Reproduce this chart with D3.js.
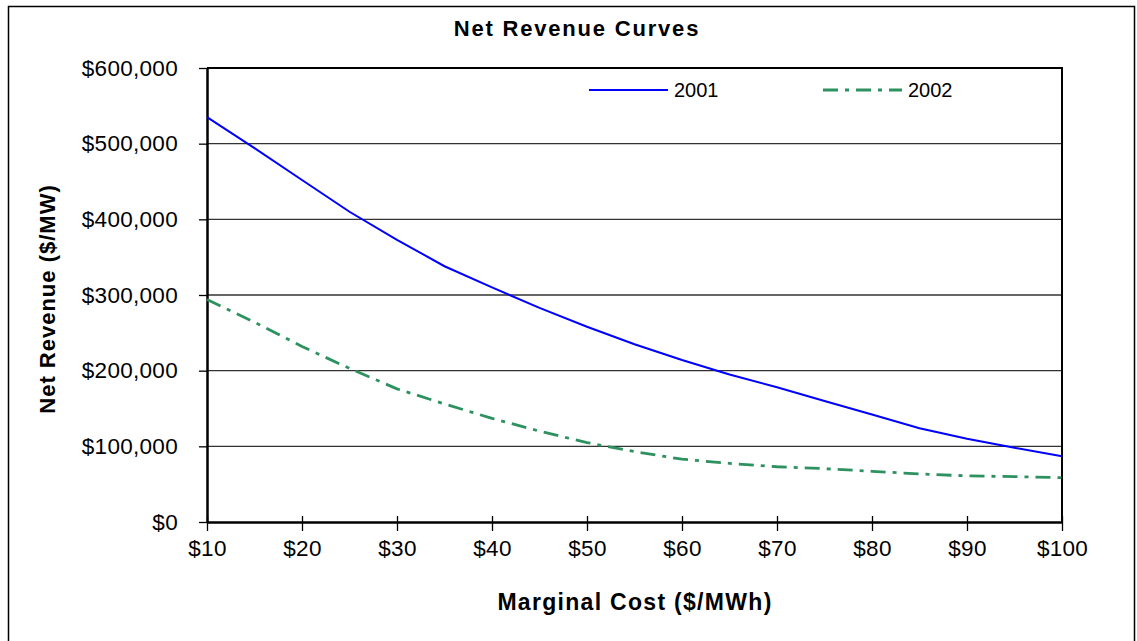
<!DOCTYPE html>
<html>
<head>
<meta charset="utf-8">
<script src="https://cdn.jsdelivr.net/npm/d3@7"></script>
<style>
  html, body { margin: 0; padding: 0; background: #fff; overflow: hidden; }
  text { font-family: "Liberation Sans", Arial, sans-serif; }
</style>
</head>
<body>
<svg id="chart" width="1137" height="641"></svg>
<script>
const costs = [10, 15, 20, 25, 30, 35, 40, 45, 50, 55, 60, 65, 70, 75, 80, 85, 90, 95, 100];
const rev2001 = [535000, 494000, 452000, 410000, 373000, 338000, 310000, 283000, 258000, 235000, 214000, 195000, 178000, 160000, 142000, 124000, 110000, 98000, 87000];
const rev2002 = [294000, 264000, 232000, 203000, 176000, 156000, 137000, 120000, 105000, 93000, 83000, 77500, 73000, 70500, 67000, 63500, 61000, 60000, 58500];
const xTicks = [10, 20, 30, 40, 50, 60, 70, 80, 90, 100];
const yTicks = [0, 100000, 200000, 300000, 400000, 500000, 600000];
const seriesNames = ["2001", "2002"];
const seriesColors = ["#0000FF", "#2E9160"];

const svg = d3.select("#chart");
const m = { left: 207, right: 1062, top: 68, bottom: 522 };

// outer border (bottom edge falls outside the picture, as in the reference)
svg.append("rect").attr("x", 8.5).attr("y", 6.5).attr("width", 1126).attr("height", 650)
  .attr("fill", "#fff").attr("stroke", "#000").attr("stroke-width", 1.5);

const x = d3.scaleLinear().domain([10, 100]).range([m.left, m.right]);
const y = d3.scaleLinear().domain([0, 600000]).range([m.bottom, m.top]);

// grid lines
svg.append("g").selectAll("line").data(yTicks.filter(d => d > 0 && d < 600000)).join("line")
  .attr("x1", m.left).attr("x2", m.right)
  .attr("y1", d => y(d)).attr("y2", d => y(d))
  .attr("stroke", "#333").attr("stroke-width", 1.3);

// top and right border of plot
svg.append("path")
  .attr("d", `M${m.left},${m.top}H${m.right}V${m.bottom}`)
  .attr("fill", "none").attr("stroke", "#000").attr("stroke-width", 2);

const fmt = d => "$" + d3.format(",")(d);

// y axis
const yAxis = svg.append("g").attr("transform", `translate(${m.left},0)`)
  .call(d3.axisLeft(y).tickValues(yTicks).tickFormat(fmt).tickSizeInner(8).tickSizeOuter(0).tickPadding(21));
yAxis.select(".domain").attr("stroke", "#000").attr("stroke-width", 2.5);
yAxis.selectAll(".tick line").attr("x1", 0).attr("x2", -8).attr("stroke", "#000").attr("stroke-width", 1.3);
yAxis.selectAll(".tick text").attr("font-size", 22.5).attr("fill", "#000")
  .attr("font-family", "Liberation Sans, Arial, sans-serif").attr("letter-spacing", 0.3);

// x axis
const xAxis = svg.append("g").attr("transform", `translate(0,${m.bottom})`)
  .call(d3.axisBottom(x).tickValues(xTicks).tickFormat(d => "$" + d).tickSizeInner(9).tickSizeOuter(0).tickPadding(9));
xAxis.select(".domain").attr("stroke", "#000").attr("stroke-width", 2.5);
xAxis.selectAll(".tick line").attr("y1", -6).attr("stroke", "#000").attr("stroke-width", 1.3);
xAxis.selectAll(".tick text").attr("font-size", 22.5).attr("fill", "#000")
  .attr("font-family", "Liberation Sans, Arial, sans-serif").attr("letter-spacing", 0.3);

// lines
const line = d3.line().x((d, i) => x(costs[i])).y(d => y(d));
svg.append("path").datum(rev2001).attr("d", line)
  .attr("fill", "none").attr("stroke", seriesColors[0]).attr("stroke-width", 2);
svg.append("path").datum(rev2002).attr("d", line)
  .attr("fill", "none").attr("stroke", seriesColors[1]).attr("stroke-width", 2.8)
  .attr("stroke-dasharray", "15,7,4,7");

// legend
const legend = [
  { name: seriesNames[0], color: seriesColors[0], dash: null, w: 2, x0: 589 },
  { name: seriesNames[1], color: seriesColors[1], dash: "15,7,4,7", w: 2.8, x0: 823 }
];
legend.forEach(l => {
  svg.append("line").attr("x1", l.x0).attr("x2", l.x0 + 79).attr("y1", 90).attr("y2", 90)
    .attr("stroke", l.color).attr("stroke-width", l.w).attr("stroke-dasharray", l.dash);
  svg.append("text").attr("x", l.x0 + 85).attr("y", 97).attr("font-size", 20).attr("fill", "#000").text(l.name);
});

// titles
svg.append("text").attr("x", 577).attr("y", 36).attr("text-anchor", "middle")
  .attr("font-size", 22).attr("font-weight", "bold").attr("letter-spacing", 1.8).text("Net Revenue Curves");
svg.append("text").attr("x", 635).attr("y", 610).attr("text-anchor", "middle")
  .attr("font-size", 23).attr("font-weight", "bold").attr("letter-spacing", 1.3).text("Marginal Cost ($/MWh)");
svg.append("text").attr("transform", "translate(55,299) rotate(-90)").attr("text-anchor", "middle")
  .attr("font-size", 22).attr("font-weight", "bold").attr("letter-spacing", 1).text("Net Revenue ($/MW)");
</script>
</body>
</html>
